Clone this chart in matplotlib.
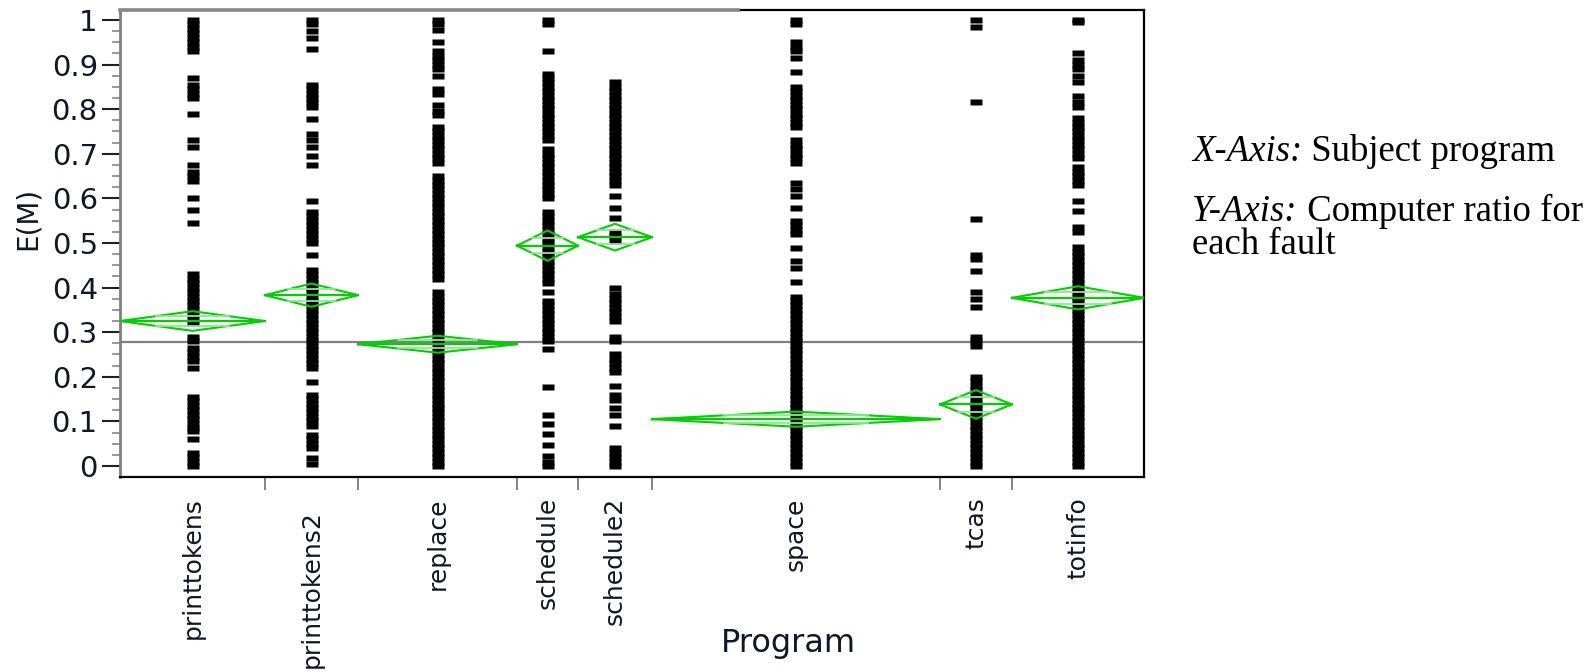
import numpy as np
import matplotlib
matplotlib.use("Agg")
import matplotlib.pyplot as plt
from matplotlib.ticker import MultipleLocator, FormatStrFormatter

# programs and how many faults each one has (sets the width of its column)
programs = ["printtokens", "printtokens2", "replace", "schedule",
            "schedule2", "space", "tcas", "totinfo"]
n_faults = [145, 93, 159, 61, 74, 288, 72, 132]

# E(M) per fault, per program
printtokens = [1.0, 0.99, 0.98, 0.97, 0.96, 0.95, 0.94, 0.93,
               0.87, 0.855, 0.845, 0.835, 0.825, 0.79,
               0.73, 0.715, 0.675, 0.66, 0.65, 0.64, 0.6, 0.575, 0.545,
               0.43, 0.42, 0.41, 0.40, 0.39, 0.38, 0.37, 0.36, 0.35, 0.34, 0.33, 0.32,
               0.29, 0.28, 0.265, 0.255, 0.245, 0.235, 0.22,
               0.155, 0.145, 0.135, 0.125, 0.115, 0.105, 0.095, 0.085, 0.078,
               0.06, 0.03, 0.02, 0.01, 0.0]
printtokens2 = [1.0, 0.99, 0.975, 0.96, 0.935,
                0.855, 0.845, 0.835, 0.825, 0.815, 0.805, 0.778,
                0.745, 0.73, 0.715, 0.695, 0.675, 0.595,
                0.57, 0.56, 0.55, 0.54, 0.53, 0.52, 0.51, 0.50, 0.473,
                0.44, 0.43, 0.42, 0.41, 0.40, 0.39, 0.38, 0.37, 0.36, 0.35, 0.34, 0.33,
                0.32, 0.31, 0.30, 0.29, 0.28, 0.27, 0.26, 0.25, 0.24, 0.23, 0.22,
                0.188, 0.16, 0.15, 0.14, 0.13, 0.12, 0.11, 0.10, 0.09,
                0.07, 0.06, 0.05, 0.04, 0.018, 0.005]
replace = [1.0, 0.99, 0.978, 0.95, 0.93, 0.92, 0.91, 0.90, 0.89, 0.875,
           0.845, 0.835, 0.81, 0.797, 0.786,
           0.76, 0.75, 0.74, 0.73, 0.72, 0.71, 0.70, 0.69, 0.68,
           0.65, 0.64, 0.63, 0.62, 0.61, 0.60, 0.59, 0.58, 0.57, 0.56, 0.55, 0.54,
           0.53, 0.52, 0.51, 0.50, 0.49, 0.48, 0.47, 0.46, 0.45, 0.44, 0.43, 0.42,
           0.39, 0.38, 0.37, 0.36, 0.35, 0.34, 0.33, 0.32, 0.31, 0.30, 0.29, 0.28,
           0.27, 0.26, 0.25, 0.24, 0.23, 0.22, 0.21, 0.20, 0.19, 0.18, 0.17, 0.16,
           0.15, 0.14, 0.13, 0.12, 0.11, 0.10, 0.09, 0.08, 0.07, 0.06, 0.05, 0.04,
           0.03, 0.02, 0.01, 0.0]
schedule = [1.0, 0.99, 0.931,
            0.88, 0.87, 0.86, 0.85, 0.84, 0.83, 0.82, 0.81, 0.80, 0.79, 0.78, 0.77,
            0.76, 0.75, 0.74, 0.73, 0.71, 0.70, 0.69, 0.68, 0.67, 0.66, 0.65, 0.64,
            0.63, 0.62, 0.61, 0.60,
            0.57, 0.56, 0.55, 0.54, 0.53, 0.52, 0.51, 0.50, 0.49, 0.48, 0.47, 0.46,
            0.45, 0.44, 0.43, 0.42, 0.41, 0.39, 0.37, 0.36, 0.35, 0.34, 0.33, 0.32,
            0.31, 0.30, 0.29, 0.28,
            0.262, 0.177, 0.114, 0.094, 0.072, 0.046, 0.022, 0.01, 0.0]
schedule2 = [0.86, 0.85, 0.84, 0.83, 0.82, 0.81, 0.80, 0.79, 0.78, 0.77, 0.76, 0.75,
             0.74, 0.73, 0.72, 0.71, 0.70, 0.69, 0.68, 0.67, 0.66, 0.65, 0.64, 0.63,
             0.605, 0.578, 0.556, 0.525, 0.515, 0.505,
             0.40, 0.385, 0.375, 0.365, 0.355, 0.345, 0.335, 0.325,
             0.29, 0.28, 0.25, 0.24, 0.23, 0.22, 0.21, 0.18, 0.16, 0.148,
             0.13, 0.115, 0.09, 0.04, 0.03, 0.02, 0.01, 0.0]
space = [1.0, 0.99, 0.95, 0.94, 0.93, 0.915, 0.883,
         0.85, 0.84, 0.83, 0.82, 0.81, 0.80, 0.79, 0.78, 0.77, 0.76,
         0.73, 0.72, 0.71, 0.70, 0.69, 0.68, 0.635, 0.62, 0.605, 0.578,
         0.55, 0.54, 0.53, 0.52, 0.488, 0.46, 0.445, 0.412,
         0.38, 0.37, 0.36, 0.35, 0.34, 0.33, 0.32, 0.31, 0.30, 0.29, 0.28, 0.27,
         0.26, 0.25, 0.24, 0.23, 0.22, 0.21, 0.20, 0.19, 0.18, 0.17, 0.16, 0.15,
         0.14, 0.13, 0.12, 0.11, 0.10, 0.09, 0.08, 0.07, 0.06, 0.05, 0.04, 0.03,
         0.02, 0.01, 0.0]
tcas = [1.0, 0.985, 0.817, 0.554, 0.474, 0.465, 0.438, 0.39, 0.375, 0.356,
        0.29, 0.28, 0.27,
        0.20, 0.19, 0.18, 0.17, 0.16, 0.15, 0.14, 0.13, 0.12, 0.11, 0.10,
        0.09, 0.08, 0.07, 0.06, 0.05, 0.04, 0.03, 0.02, 0.01, 0.0]
totinfo = [1.0, 0.995, 0.925, 0.91, 0.90, 0.89, 0.875, 0.86, 0.83, 0.815, 0.805,
           0.78, 0.77, 0.76, 0.75, 0.74, 0.73, 0.72, 0.71, 0.70, 0.69, 0.67, 0.66,
           0.65, 0.64, 0.63, 0.595, 0.572, 0.535, 0.525,
           0.49, 0.48, 0.47, 0.46, 0.45, 0.44, 0.43, 0.42, 0.41, 0.40, 0.39, 0.38,
           0.37, 0.36, 0.35, 0.34, 0.33, 0.32, 0.31, 0.30, 0.29, 0.28, 0.27, 0.26,
           0.25, 0.24, 0.23, 0.22, 0.21, 0.20, 0.19, 0.18, 0.17, 0.16, 0.15, 0.14,
           0.13, 0.12, 0.11, 0.10, 0.09, 0.08, 0.07, 0.06, 0.05, 0.04, 0.03, 0.02,
           0.01, 0.0]
values = [printtokens, printtokens2, replace, schedule,
          schedule2, space, tcas, totinfo]

# group means and 95% CI half widths (the means diamonds)
means = [0.325, 0.383, 0.273, 0.494, 0.513, 0.105, 0.138, 0.377]
ci_half = [0.022, 0.026, 0.019, 0.034, 0.030, 0.017, 0.032, 0.026]
grand_mean = 0.278

green = "#00d000"
light_green = "#8ee88e"

plt.rcParams["font.family"] = ["DejaVu Sans"]

fig = plt.figure(figsize=(15.95, 6.71), dpi=100)
ax = fig.add_axes([120 / 1595, 1 - 477 / 671, 1024 / 1595, 467 / 671])

edges = np.concatenate([[0], np.cumsum(n_faults)])
centers = (edges[:-1] + edges[1:]) / 2

ax.axhline(grand_mean, color="#808080", lw=1.6, zorder=1)

rect = [(-1, -0.6), (1, -0.6), (1, 0.6), (-1, 0.6), (-1, -0.6)]
for c, vals in zip(centers, values):
    ax.plot(np.full(len(vals), c), vals, ls="none", marker=rect, ms=8,
            color="black", mec="none", zorder=3)

for left, right, c, m, h in zip(edges[:-1], edges[1:], centers, means, ci_half):
    ax.plot([left, c, right, c, left], [m, m + h, m, m - h, m],
            color=green, lw=1.5, zorder=4)
    ax.plot([left, right], [m, m], color=green, lw=1.6, zorder=4)
    half_w = (right - left) / 2 * 0.5
    for s in (1, -1):
        ax.plot([c - half_w, c + half_w], [m + s * h * 0.5] * 2,
                color=light_green, lw=1.3, zorder=4)

ax.set_xlim(edges[0], edges[-1])
ax.set_ylim(-0.0247, 1.0224)

ax.yaxis.set_major_locator(MultipleLocator(0.1))
ax.yaxis.set_minor_locator(MultipleLocator(0.025))
ax.yaxis.set_major_formatter(FormatStrFormatter("%g"))
ax.tick_params(axis="y", which="major", length=13, width=1.5, color="#202020",
               labelsize=21, pad=3, labelcolor="#14142a")
ax.tick_params(axis="y", which="minor", length=6, width=1.5, color="#9a9a9a")

ax.set_xticks(edges[1:-1])
ax.set_xticklabels([])
ax.tick_params(axis="x", which="major", length=9.5, width=1.2, color="#707070")

for sp in ["bottom", "right", "top"]:
    ax.spines[sp].set_color("black")
    ax.spines[sp].set_linewidth(1.6)
ax.spines["left"].set_color("#808080")
ax.spines["left"].set_linewidth(2)
ax.plot([0, 0.6035], [1, 1], transform=ax.transAxes, color="#8a8a8a",
        lw=2.6, clip_on=False, zorder=5)

for i, (name, c) in enumerate(zip(programs, centers)):
    pad = 24 if name == "printtokens2" else 14.5
    ax.annotate(name, xy=(c, 0), xycoords=("data", "axes fraction"),
                xytext=(0, -pad), textcoords="offset points",
                rotation=90, ha="center", va="top", fontsize=18,
                color="#14142a", annotation_clip=False)

fig.text(788 / 1595, 1 - 652 / 671, "Program", ha="center", va="baseline",
         fontsize=23, color="#14142a")
fig.text(28 / 1595, 1 - 218 / 671, "E(M)", rotation=90, ha="center",
         va="center", fontsize=20, color="#14142a")

# axis notes on the right
serif = "Liberation Serif"
x0 = 1192 / 1595
fsize = 26.5
fig.canvas.draw()
r = fig.canvas.get_renderer()
for y_px, head, rest in [(161, "X-Axis:", " Subject program"),
                         (221, "Y-Axis:", " Computer ratio for")]:
    t = fig.text(x0, 1 - y_px / 671, head, fontsize=fsize, family=serif,
                 style="italic", va="baseline")
    bb = t.get_window_extent(renderer=r)
    fig.text(bb.x1 / fig.bbox.width, 1 - y_px / 671, rest, fontsize=fsize,
             family=serif, va="baseline")
fig.text(x0, 1 - 254 / 671, "each fault", fontsize=fsize, family=serif,
         va="baseline")

fig.savefig("out.png", dpi=100)
